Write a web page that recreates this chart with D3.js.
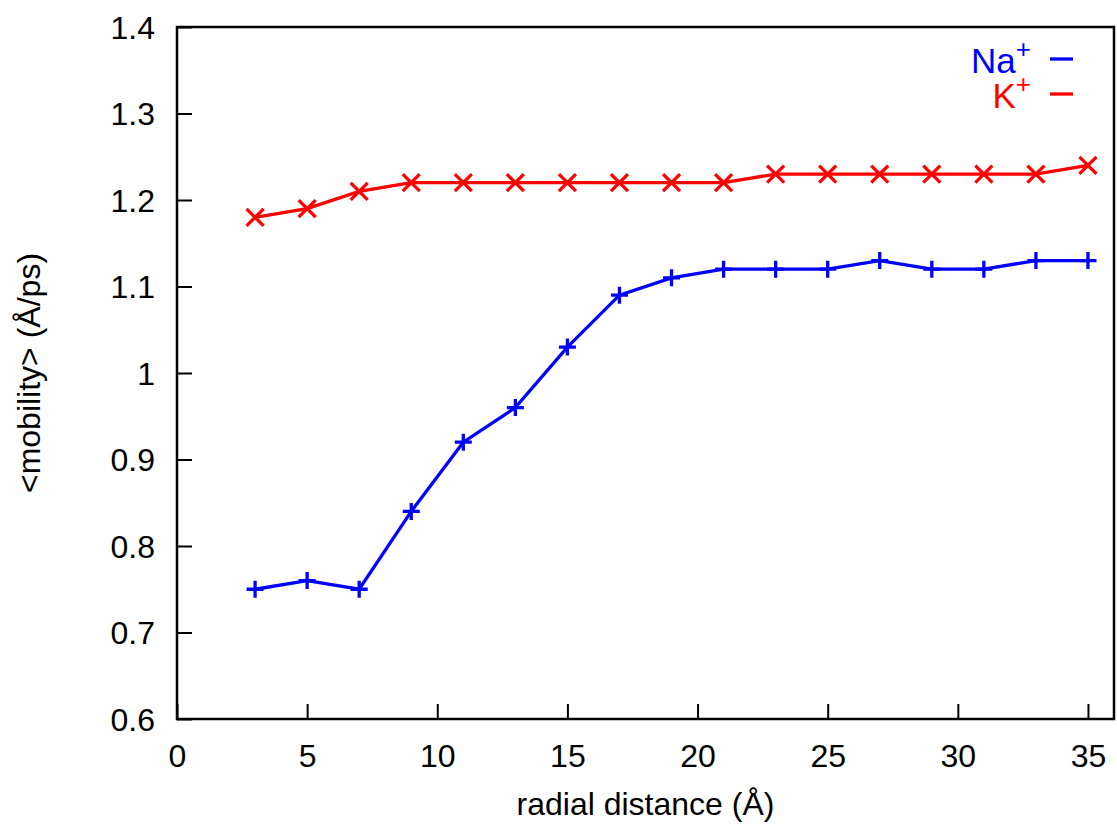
<!DOCTYPE html>
<html>
<head>
<meta charset="utf-8">
<script src="https://cdn.jsdelivr.net/npm/d3@7"></script>
<style>
  body { margin: 0; background: #fff; }
  text { font-family: "Liberation Sans", Arial, Helvetica, sans-serif; }
</style>
</head>
<body>
<div id="chart"></div>
<script>
// data
let distance = [3, 5, 7, 9, 11, 13, 15, 17, 19, 21, 23, 25, 27, 29, 31, 33, 35];
let naMobility = [0.75, 0.76, 0.75, 0.84, 0.92, 0.96, 1.03, 1.09, 1.11, 1.12, 1.12, 1.12, 1.13, 1.12, 1.12, 1.13, 1.13];
let kMobility = [1.18, 1.19, 1.21, 1.22, 1.22, 1.22, 1.22, 1.22, 1.22, 1.22, 1.23, 1.23, 1.23, 1.23, 1.23, 1.23, 1.24];
let xTicks = [0, 5, 10, 15, 20, 25, 30, 35];
let yTicks = [0.6, 0.7, 0.8, 0.9, 1, 1.1, 1.2, 1.3, 1.4];

let svgWidth = 1117;
let svgHeight = 827;
let plotLeft = 177, plotRight = 1114, plotTop = 27, plotBottom = 719;
let fontSize = 32;

let svg = d3.select("#chart")
  .append("svg")
  .attr("width", svgWidth)
  .attr("height", svgHeight);

let xScale = d3.scaleLinear().domain([0, 36]).range([plotLeft, plotRight]);
let yScale = d3.scaleLinear().domain([0.6, 1.4]).range([plotBottom, plotTop]);

// axes, ticks pointing inward
let xAxis = svg.append("g")
  .attr("transform", `translate(0,${plotBottom})`)
  .call(d3.axisTop(xScale).tickValues(xTicks).tickSize(15).tickFormat(d3.format("d")));
xAxis.select(".domain").remove();
xAxis.selectAll("line").attr("stroke", "#000").attr("stroke-width", 2);
xAxis.selectAll("text")
  .attr("y", 48)
  .attr("dy", 0)
  .style("font-size", fontSize + "px")
  .attr("fill", "#000");

let yAxis = svg.append("g")
  .attr("transform", `translate(${plotLeft},0)`)
  .call(d3.axisRight(yScale).tickValues(yTicks).tickSize(15).tickFormat(d => d === 1 ? "1" : d3.format(".1f")(d)));
yAxis.select(".domain").remove();
yAxis.selectAll("line").attr("stroke", "#000").attr("stroke-width", 2);
yAxis.selectAll("text")
  .attr("x", -22)
  .attr("dy", "0.35em")
  .attr("text-anchor", "end")
  .style("font-size", fontSize + "px")
  .attr("fill", "#000");

// frame
svg.append("rect")
  .attr("x", plotLeft).attr("y", plotTop)
  .attr("width", plotRight - plotLeft).attr("height", plotBottom - plotTop)
  .attr("fill", "none").attr("stroke", "#000").attr("stroke-width", 2.5);

// axis labels
svg.append("text")
  .attr("x", (plotLeft + plotRight) / 2)
  .attr("y", 815)
  .attr("text-anchor", "middle")
  .style("font-size", fontSize + "px")
  .text("radial distance (Å)");

svg.append("text")
  .attr("transform", `translate(40,${(plotTop + plotBottom) / 2}) rotate(-90)`)
  .attr("text-anchor", "middle")
  .style("font-size", fontSize + "px")
  .text("<mobility> (Å/ps)");

// series
let series = [
  { name: "Na", values: naMobility, color: "#0000ff", marker: "plus" },
  { name: "K", values: kMobility, color: "#ff0000", marker: "cross" }
];

let line = d3.line()
  .x((d, i) => xScale(distance[i]))
  .y(d => yScale(d));

let ms = 8.5;
series.forEach(s => {
  svg.append("path")
    .datum(s.values)
    .attr("d", line)
    .attr("fill", "none")
    .attr("stroke", s.color)
    .attr("stroke-width", 3.3);

  svg.append("g").selectAll("path")
    .data(s.values)
    .enter()
    .append("path")
    .attr("transform", (d, i) => `translate(${xScale(distance[i])},${yScale(d)})`)
    .attr("d", s.marker === "plus"
      ? `M${-ms},0H${ms}M0,${-ms}V${ms}`
      : `M${-ms},${-ms}L${ms},${ms}M${-ms},${ms}L${ms},${-ms}`)
    .attr("stroke", s.color)
    .attr("stroke-width", 3.3)
    .attr("fill", "none");
});

// legend
let legend = svg.append("g");
series.forEach((s, i) => {
  let y = 59 + i * 35;
  let t = legend.append("text")
    .attr("x", 1031)
    .attr("y", y + 14)
    .attr("text-anchor", "end")
    .attr("fill", s.color)
    .style("font-size", "35px");
  t.append("tspan").text(s.name);
  t.append("tspan")
    .attr("dy", -15)
    .style("font-size", "26px")
    .text("+");
  legend.append("line")
    .attr("x1", 1050).attr("x2", 1073)
    .attr("y1", y).attr("y2", y)
    .attr("stroke", s.color)
    .attr("stroke-width", 3.3);
});
</script>
</body>
</html>
